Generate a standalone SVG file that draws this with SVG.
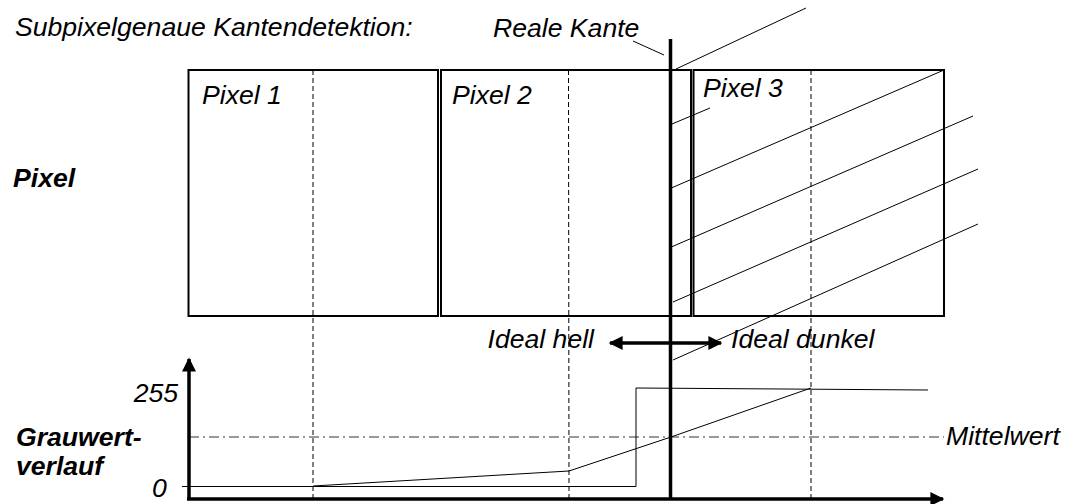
<svg xmlns="http://www.w3.org/2000/svg" width="1067" height="504" viewBox="0 0 1067 504">
<defs>
<style>
text{font-family:"Liberation Sans",Arial,sans-serif;font-style:italic;font-size:26.6px;fill:#000}
.b{font-weight:bold}
.box{fill:#fff;stroke:#000;stroke-width:2}
.thin{stroke:#000;stroke-width:1;fill:none}
.dash{stroke:#000;stroke-width:1;stroke-dasharray:5 3;fill:none}
.dd{stroke:#333;stroke-width:1;stroke-dasharray:10 4 2 4;fill:none}
.thick{stroke:#000;stroke-width:3.5;fill:none}
</style>
<marker id="ah" viewBox="0 0 10 10" refX="9" refY="5" markerWidth="4.5" markerHeight="4" orient="auto-start-reverse" markerUnits="strokeWidth">
<path d="M0,0 L10,5 L0,10 Z" fill="#000"/>
</marker>
</defs>
<rect width="1067" height="504" fill="#fff"/>
<text x="15" y="36">Subpixelgenaue Kantendetektion:</text>
<text x="493" y="37">Reale Kante</text>
<g id="pixel1"><rect class="box" x="188.5" y="70" width="249.5" height="246"/><text x="202" y="104">Pixel 1</text></g>
<g id="pixel2"><rect class="box" x="441" y="70" width="250" height="246"/><text x="452" y="104">Pixel 2</text></g>
<g id="pixel3"><rect class="box" x="693.5" y="70" width="250.5" height="246"/><text x="703" y="97">Pixel 3</text></g>
<text class="b" x="13" y="187">Pixel</text>
<text class="b" x="16" y="446">Grauwert-</text>
<text class="b" x="16" y="475">verlauf</text>
<text x="178" y="402" text-anchor="end">255</text>
<text x="152" y="497">0</text>
<text x="594" y="348" text-anchor="end">Ideal hell</text>
<text x="731" y="348">Ideal dunkel</text>
<text x="946" y="445">Mittelwert</text>
<g id="connectors">
<line class="dash" x1="313" y1="70" x2="313" y2="499"/>
<line class="dash" x1="568.5" y1="70" x2="569" y2="499"/>
<line class="dash" x1="811" y1="70" x2="811" y2="499"/>
<line class="dd" x1="189" y1="437" x2="944" y2="437"/>
<line class="thin" x1="633" y1="41" x2="664" y2="55"/>
<line class="thin" x1="676" y1="69" x2="806" y2="8"/>
<line class="thin" x1="672" y1="124" x2="710" y2="108"/>
<line class="thin" x1="669" y1="189" x2="944" y2="70"/>
<line class="thin" x1="669" y1="248" x2="973" y2="116"/>
<line class="thin" x1="673" y1="302" x2="978" y2="169"/>
<line class="thin" x1="673" y1="360" x2="978" y2="224"/>
<polyline class="thin" points="182,486.5 636,486.5 636,388 928,390" stroke="#222"/>
<polyline class="thin" points="313,486 569,471 671,437 811,388"/>
<line class="thick" x1="670.5" y1="39" x2="670.5" y2="499"/>
<line class="thick" x1="189" y1="499" x2="189" y2="359" marker-end="url(#ah)"/>
<line class="thick" x1="187" y1="499" x2="943" y2="499" marker-end="url(#ah)"/>
<line x1="610" y1="343" x2="721" y2="343" stroke="#000" stroke-width="3.5" marker-start="url(#ah)" marker-end="url(#ah)"/>
</g>
</svg>
